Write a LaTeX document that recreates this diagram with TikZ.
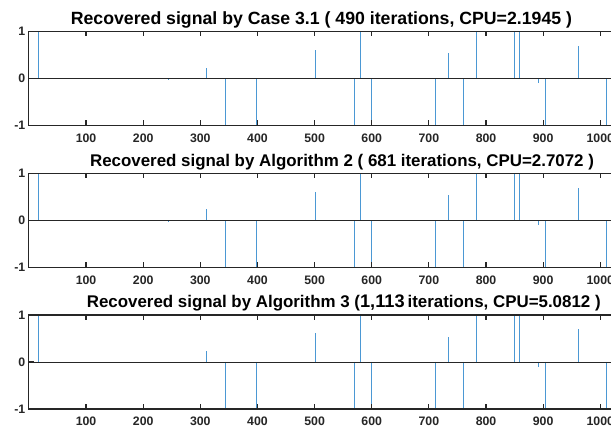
\documentclass[tikz,border=0pt]{standalone}
\usepackage{fontspec}
\setmainfont{Liberation Sans}
\definecolor{axgray}{RGB}{38,38,38}
\definecolor{stemblue}{RGB}{75,152,212}
\tikzset{
  axisline/.style={axgray,line width=1.1pt},
  baseline0/.style={axgray,line width=0.8pt},
  stemline/.style={stemblue,line width=0.9pt},
  ticklbl/.style={font=\fontsize{12.3}{12}\selectfont\bfseries, text=axgray, inner sep=0pt},
  titlelbl/.style={font=\fontsize{17.7}{18}\selectfont\bfseries, text=black, inner sep=0pt},
  titlesm/.style={font=\fontsize{16.9}{18}\selectfont\bfseries, text=black, inner sep=0pt}
}
\newcommand\sigpanel[6]{% #1 y0 (px), #2 name, #3 title, #4 spikes, #5 title centre (data x), #6 title style
  \begin{scope}[shift={(28.9,#1)}, xscale=0.5714, yscale=-47]
    \foreach \sx/\sv in {#4} \draw[stemline] (\sx,0) -- (\sx,\sv);
    \draw[baseline0] (0,0) -- (1100,0);
    \draw[axisline] (1100,1) -- (0,1) -- (0,-1) -- (1100,-1);
    \foreach \t in {100,200,...,1000} {
      \draw[axisline] (\t,1) -- (\t,0.894);
      \draw[axisline] (\t,-1) -- (\t,-0.894);
      \node[ticklbl, anchor=base] (#2x\t) at (\t,-1) [yshift=-17pt] {\t};
    }
    \draw[axisline] (0,0) -- (8.75,0);
    \node[ticklbl, anchor=east] (#2y1) at (0,1) [xshift=-3.5pt] {1};
    \node[ticklbl, anchor=east] (#2y0) at (0,0) [xshift=-3.5pt] {0};
    \node[ticklbl, anchor=east] (#2ym) at (0,-1) [xshift=-3.5pt] {-1};
    \node[#6, anchor=base] (#2t) at (#5,1) [yshift=7pt] {#3};
  \end{scope}}
\begin{document}
\begin{tikzpicture}[x=1pt,y=-1pt]
\useasboundingbox (0,0) rectangle (611,430);
\clip (0,0) rectangle (611,430);
\fill[white] (0,0) rectangle (611,430);
\sigpanel{78.3}{pa}{Recovered signal by Case 3.1 ( 490 iterations, CPU=2.1945 )}
  {17/1, 245/-0.03, 310/0.21, 344/-1, 399/-1, 502/0.6, 570/-1, 581/1, 599/-1, 711/-1, 735/0.53, 760/-1, 783/1, 850/1, 859/1, 892/-0.1, 904/-1, 962/0.69, 1010/-1}{512}{titlelbl}
\sigpanel{220.3}{pb}{Recovered signal by Algorithm 2 ( 681 iterations, CPU=2.7072 )}
  {17/1, 245/-0.03, 310/0.23, 344/-1, 399/-1, 502/0.61, 570/-1, 581/1, 599/-1, 711/-1, 735/0.54, 760/-1, 783/1, 850/1, 859/1, 892/-0.1, 904/-1, 962/0.69, 1010/-1}{548}{titlesm}
\sigpanel{362}{pc}{Recovered signal by Algorithm 3 ({\fontsize{18.2}{18}\selectfont 1,113}\kern3pt iterations, CPU=5.0812 )}
  {17/1, 245/-0.03, 310/0.23, 344/-1, 399/-1, 502/0.62, 570/-1, 581/1, 599/-1, 711/-1, 735/0.54, 760/-1, 783/1, 850/1, 859/1, 892/-0.1, 904/-1, 962/0.71, 1010/-1}{551}{titlesm}
\end{tikzpicture}
\end{document}
